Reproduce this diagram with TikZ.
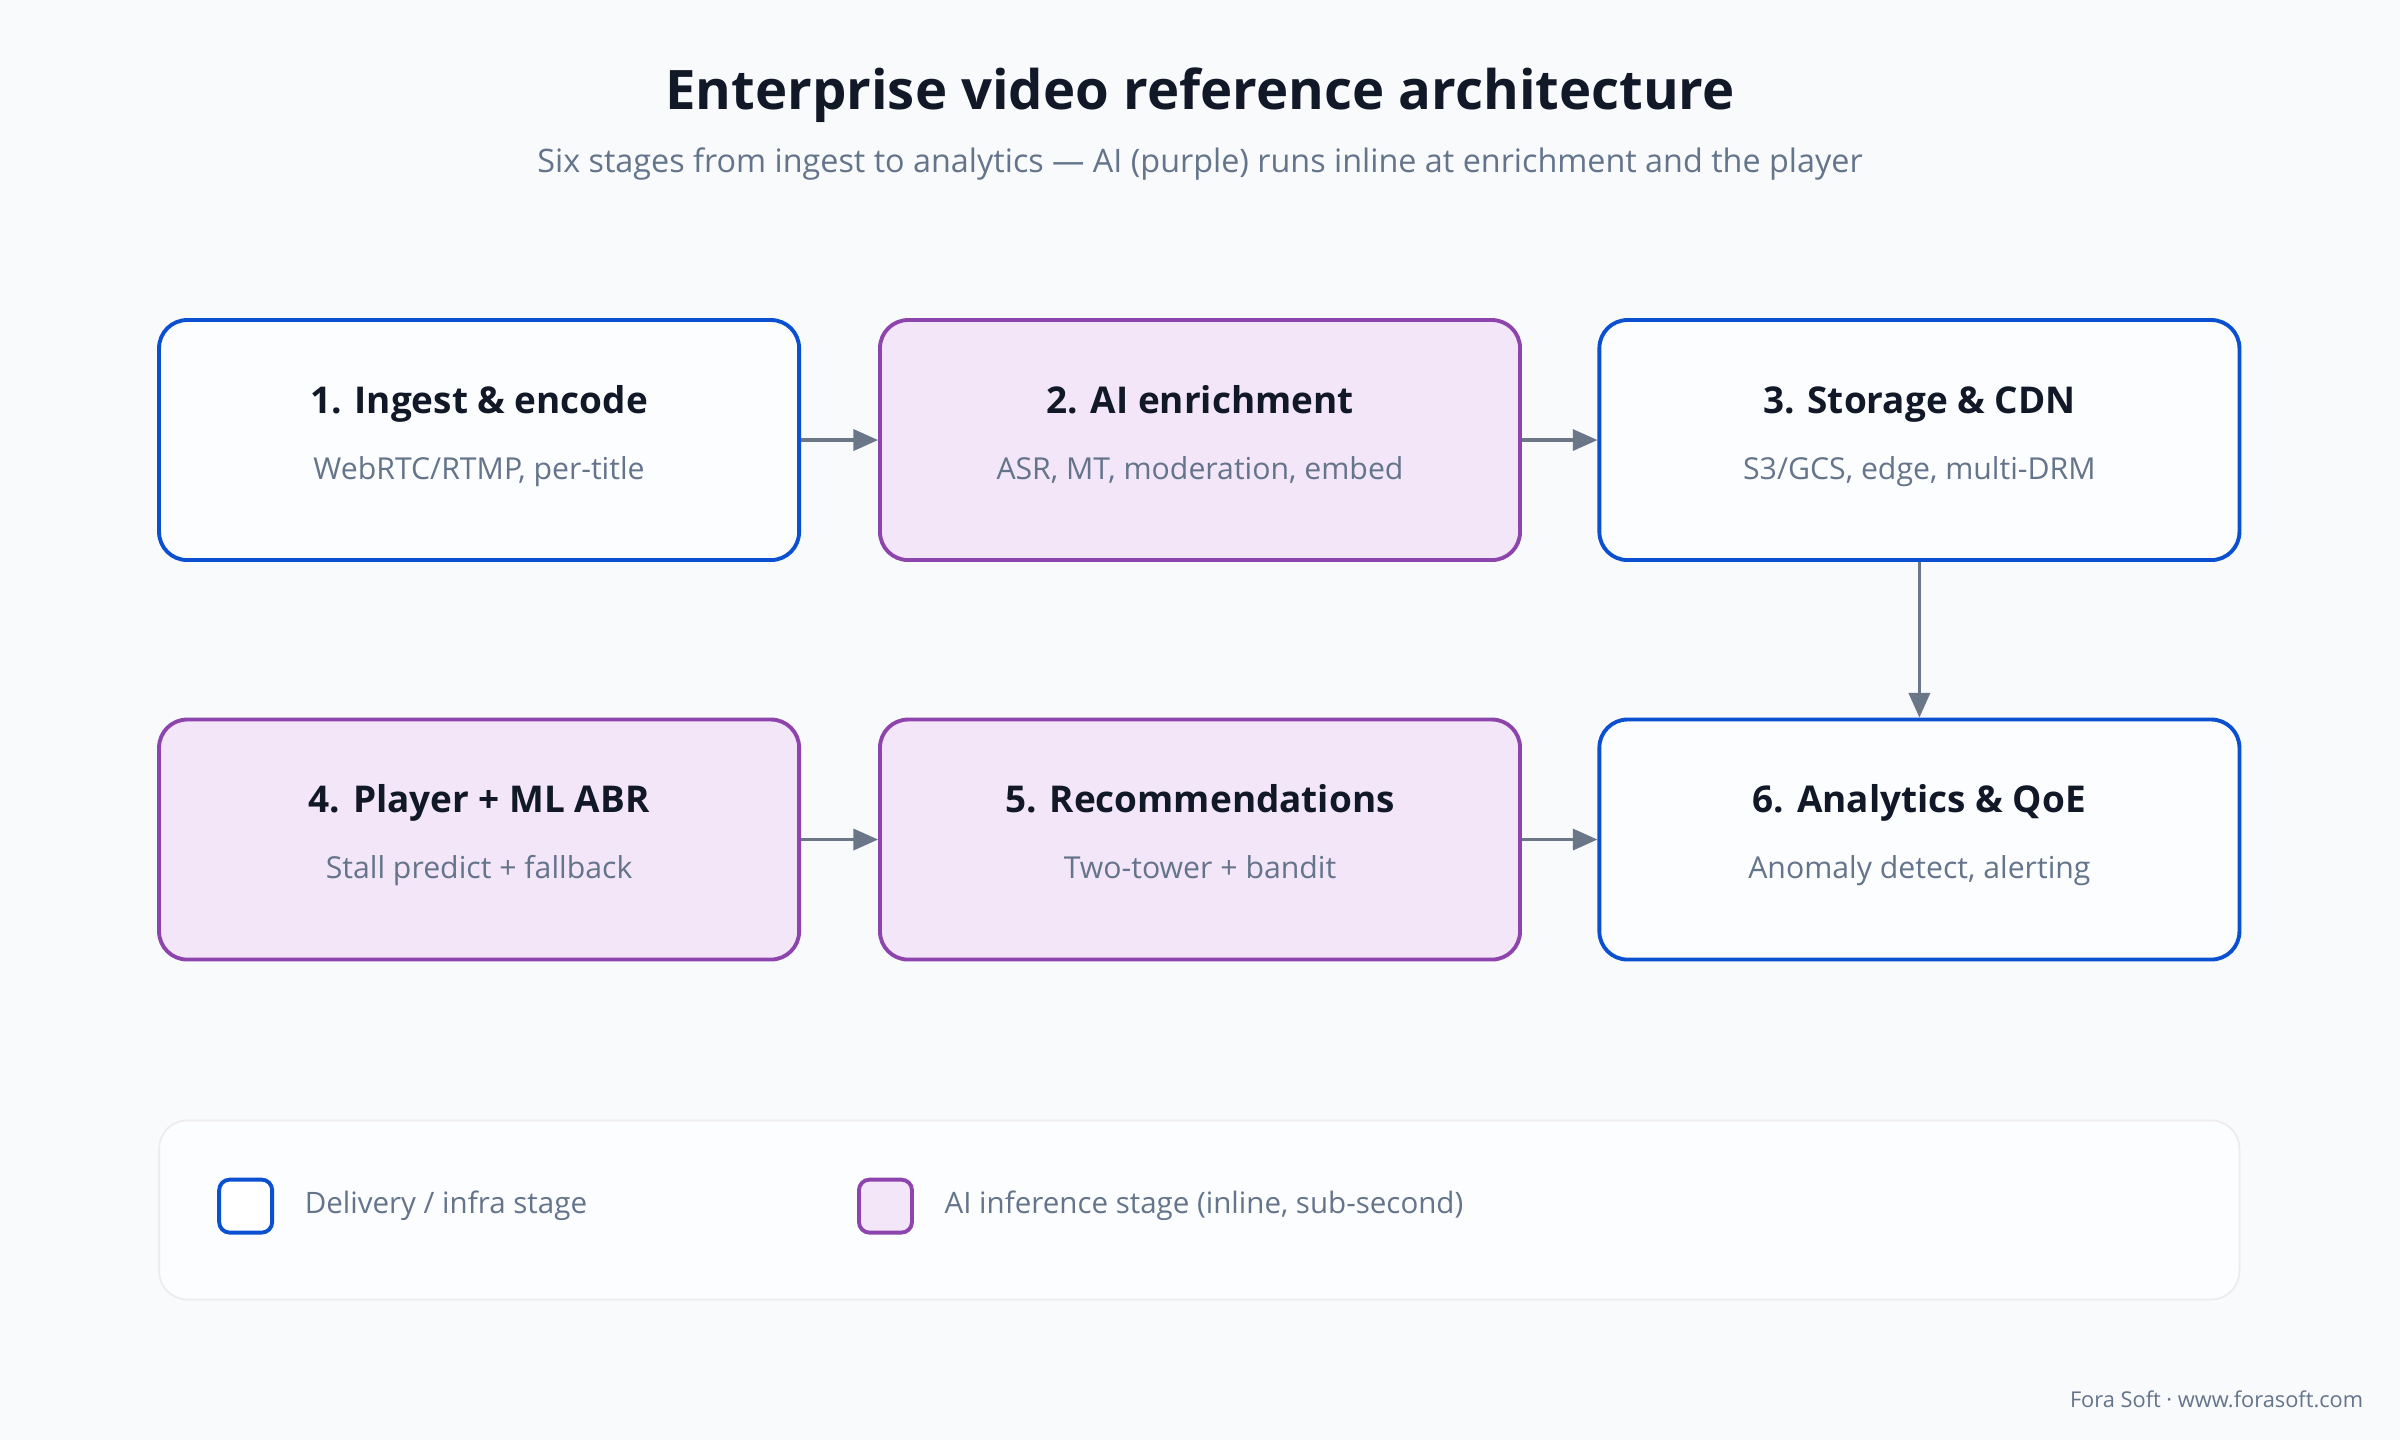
\documentclass[tikz,border=0pt]{standalone}
\usepackage{fontspec}
\setmainfont{Open Sans}
\usetikzlibrary{arrows.meta,positioning}
\definecolor{bgc}{HTML}{F8FAFC}
\definecolor{infra}{HTML}{0B50D0}
\definecolor{aiedge}{HTML}{8E44AD}
\definecolor{aifill}{HTML}{F3E6F8}
\definecolor{ink}{HTML}{111827}
\definecolor{mute}{HTML}{64748B}
\definecolor{wire}{HTML}{6B7689}
\tikzset{
  stage/.style={draw=infra, fill=white!60!bgc, line width=1.1pt, rounded corners=8pt,
    minimum width=6.4cm, minimum height=2.4cm},
  aistage/.style={stage, draw=aiedge, fill=aifill},
  head/.style={text=ink, anchor=base, font=\fontsize{10.5}{12}\selectfont\bfseries},
  sub/.style={text=mute, anchor=base, font=\fontsize{8.6}{10}\selectfont},
  flow/.style={-{Triangle[length=7pt,width=6pt]}, draw=wire, line width=0.9pt},
}
\begin{document}
\begin{tikzpicture}[x=0.015306cm, y=-0.015306cm]
  \fill[bgc] (0,0) rectangle (1568,941);
  \useasboundingbox (0,0) rectangle (1568,941);

  \node[text=ink, font=\fontsize{15.5}{18}\selectfont\bfseries] (title) at (784,62) {Enterprise video reference architecture};
  \node[text=mute, font=\fontsize{9.2}{11}\selectfont] (subtitle) at (784,107) {Six stages from ingest to analytics — AI (purple) runs inline at enrichment and the player};

  % stages
  \node[stage]   (s1) at (313,287.5) {};
  \node[aistage] (s2) at (784,287.5) {};
  \node[stage]   (s3) at (1254,287.5) {};
  \node[aistage] (s4) at (313,548.5) {};
  \node[aistage] (s5) at (784,548.5) {};
  \node[stage]   (s6) at (1254,548.5) {};

  \foreach \n/\t/\s in {s1/{1. Ingest \& encode}/{WebRTC/RTMP, per-title},
      s2/{2. AI enrichment}/{ASR, MT, moderation, embed},
      s3/{3. Storage \& CDN}/{S3/GCS, edge, multi-DRM},
      s4/{4. Player + ML ABR}/{Stall predict + fallback},
      s5/{5. Recommendations}/{Two-tower + bandit},
      s6/{6. Analytics \& QoE}/{Anomaly detect, alerting}}{
    \node[head] (\n-head) at ([yshift=0.27cm]\n.center) {\t};
    \node[sub]  (\n-sub)  at ([yshift=-0.39cm]\n.center) {\s};
  }

  \draw[flow] (s1) -- (s2);
  \draw[flow] (s2) -- (s3);
  \draw[flow] (s3) -- (s6);
  \draw[flow] (s4) -- (s5);
  \draw[flow] (s5) -- (s6);

  % legend
  \node[draw=aifill!60!gray!30, fill=white!60!bgc, line width=0.5pt, rounded corners=8pt,
    minimum width=20.8cm, minimum height=1.79cm] (legend) at (783.5,790.5) {};
  \node[draw=infra, fill=white, line width=1.1pt, rounded corners=3pt, minimum size=0.53cm] (key1) at (160.5,788) {};
  \node[sub, anchor=west, font=\fontsize{8.4}{10}\selectfont] (key1-text) at (191,788) {Delivery / infra stage};
  \node[draw=aiedge, fill=aifill, line width=1.1pt, rounded corners=3pt, minimum size=0.53cm] (key2) at (578.5,788) {};
  \node[sub, anchor=west, font=\fontsize{8.4}{10}\selectfont] (key2-text) at (609,788) {AI inference stage (inline, sub-second)};

  \node[text=mute, anchor=east, font=\fontsize{6.2}{8}\selectfont] (credit) at (1552,914) {Fora Soft · www.forasoft.com};
\end{tikzpicture}
\end{document}
